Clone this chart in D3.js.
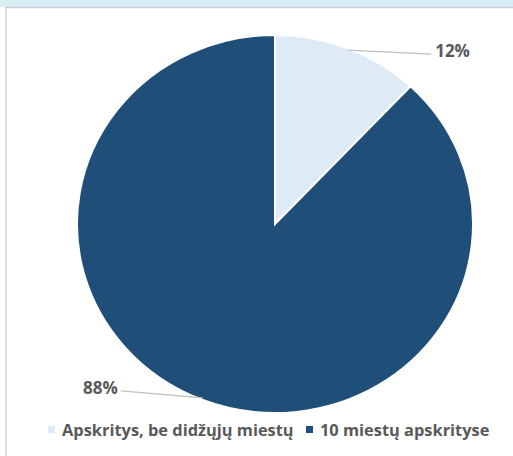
<!DOCTYPE html>
<html>
<head>
<meta charset="utf-8">
<script src="https://cdn.jsdelivr.net/npm/d3@7"></script>
<style>
  body { margin: 0; background: #fff; }
  svg { display: block; }
</style>
</head>
<body>
<script>
const categories = ["Apskritys, be didžųjų miestų", "10 miestų apskrityse"];
const values = [12, 88];
const labels = ["12%", "88%"];
const colors = ["#deebf7", "#1f4e79"];

const width = 513;
const height = 456;
const cx = 275, cy = 224;
const rx = 198, ry = 189;

const svg = d3.select("body").append("svg")
  .attr("width", width)
  .attr("height", height);

// top strip + frame
svg.append("rect").attr("x", 0).attr("y", 0).attr("width", width).attr("height", 7).attr("fill", "#d8edf4");
svg.append("line").attr("x1", 5).attr("x2", width).attr("y1", 7.5).attr("y2", 7.5).attr("stroke", "#d0d0d0").attr("stroke-width", 1.5);
svg.append("line").attr("x1", 6).attr("x2", 6).attr("y1", 7).attr("y2", height).attr("stroke", "#d0d0d0").attr("stroke-width", 1.5);

const pie = d3.pie().sort(null).value(d => d);
const arcs = pie(values);
const arc = d3.arc().innerRadius(0).outerRadius(rx);

const g = svg.append("g")
  .attr("transform", `translate(${cx},${cy}) scale(1,${ry / rx})`);

g.selectAll("path")
  .data(arcs)
  .enter()
  .append("path")
  .attr("d", arc)
  .attr("fill", (_, i) => colors[i])
  .attr("stroke", "#fff")
  .attr("stroke-width", 2);

// leader lines and labels
const pt = (a, r) => [cx + r * Math.sin(a), cy - r * (ry / rx) * Math.cos(a)];
arcs.forEach((d, i) => {
  const mid = (d.startAngle + d.endAngle) / 2;
  const right = Math.sin(mid) > 0;
  const p0 = pt(mid, rx * 0.99);
  const p1 = [p0[0] + (right ? 84 : -82), p0[1] + (right ? 4 : -7)];
  svg.append("line")
    .attr("x1", p0[0]).attr("y1", p0[1])
    .attr("x2", p1[0]).attr("y2", p1[1])
    .attr("stroke", "#bfbfbf").attr("stroke-width", 1.2);
  svg.append("text")
    .attr("x", p1[0] + (right ? 4 : -3))
    .attr("y", p1[1])
    .attr("dy", "0.15em")
    .attr("text-anchor", right ? "start" : "end")
    .attr("font-family", "'Open Sans', sans-serif")
    .attr("font-weight", "bold")
    .attr("font-size", 17)
    .attr("fill", "#595959")
    .text(labels[i]);
});

// legend
const legend = svg.append("g").attr("transform", "translate(48,430)");
const legX = [0, 258];
categories.forEach((c, i) => {
  const lg = legend.append("g").attr("transform", `translate(${legX[i]},0)`);
  lg.append("rect").attr("x", 0).attr("y", -4).attr("width", 7).attr("height", 7).attr("fill", colors[i]);
  lg.append("text")
    .attr("x", 14).attr("y", 0)
    .attr("dy", "0.35em")
    .attr("font-family", "'Open Sans', sans-serif")
    .attr("font-weight", "bold")
    .attr("font-size", 16.4)
    .attr("fill", "#595959")
    .text(c);
});
</script>
</body>
</html>
